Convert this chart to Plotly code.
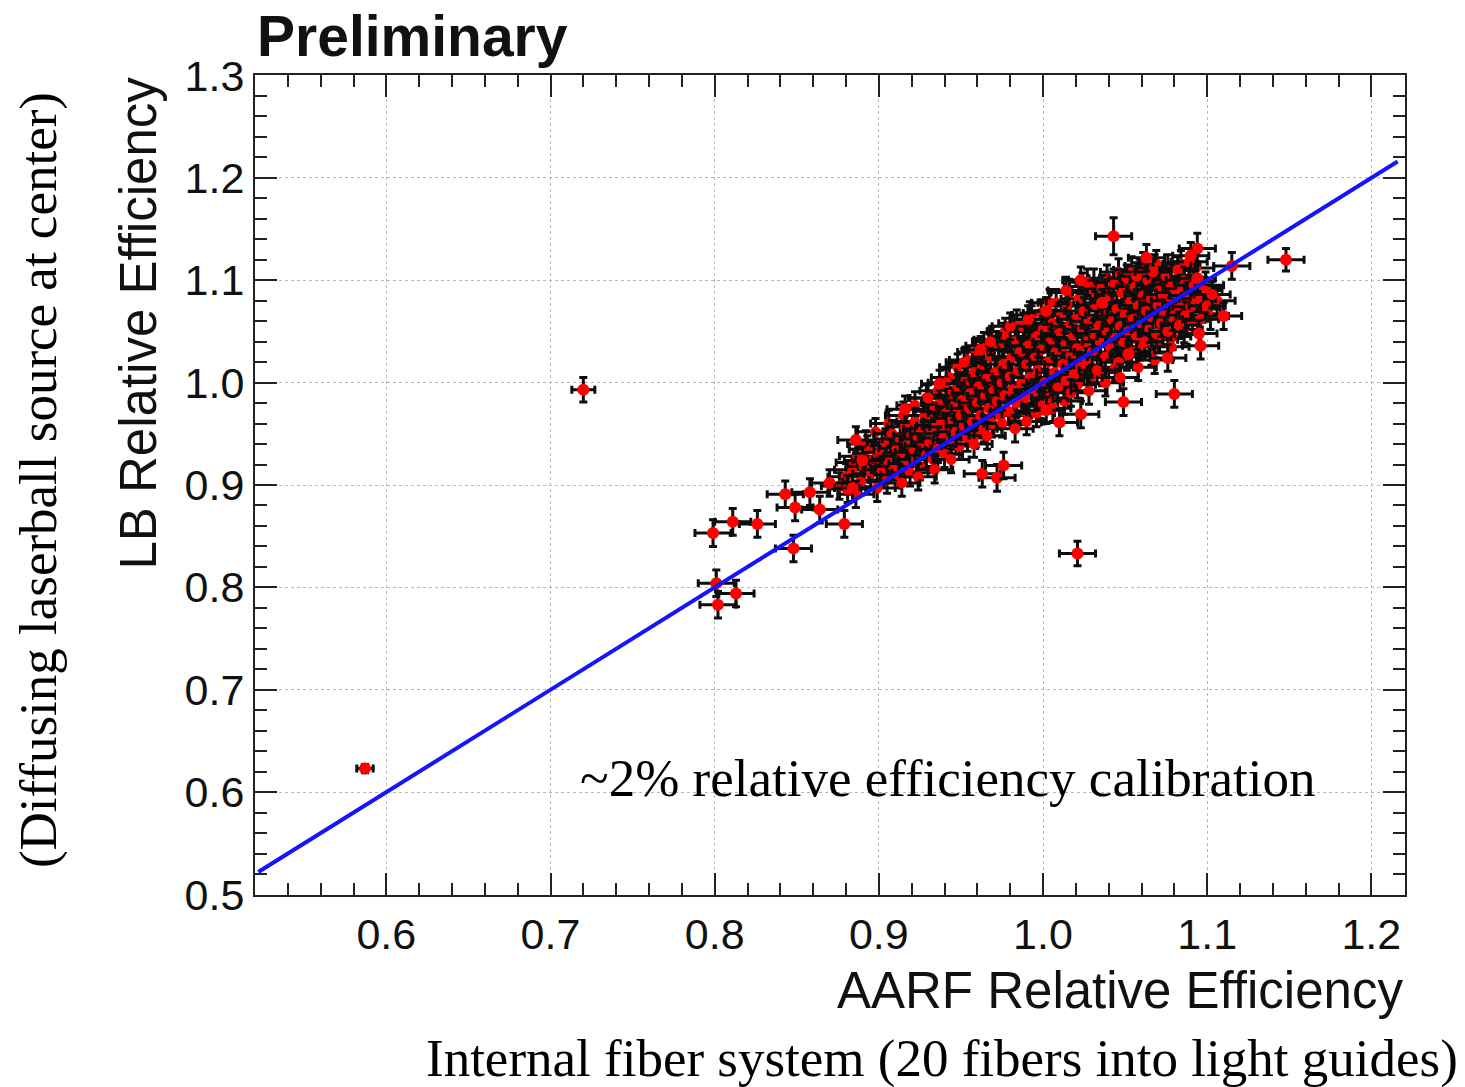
import plotly.graph_objects as go

# ---------------- data ----------------
# dense cluster (AARF x, LB y)
cluster_x = [
 0.876,0.880,0.884,0.887,0.889,0.891,0.893,0.895,0.897,0.899,0.886,
 0.901,0.902,0.904,0.905,0.907,0.908,0.909,0.911,0.912,0.913,0.914,0.916,0.917,0.918,0.919,0.920,
 0.921,0.922,0.923,0.924,0.925,0.926,0.927,0.928,0.929,0.930,0.931,0.932,0.933,0.934,0.935,0.936,0.937,0.938,0.939,0.940,
 0.941,0.942,0.943,0.944,0.945,0.946,0.947,0.948,0.949,0.950,0.951,0.952,0.953,0.954,0.955,0.956,0.957,0.958,0.959,0.960,
 0.961,0.962,0.963,0.964,0.965,0.966,0.967,0.968,0.969,0.970,0.971,0.972,0.973,0.974,0.975,0.976,0.977,0.978,0.979,0.980,
 0.981,0.982,0.983,0.984,0.985,0.986,0.987,0.988,0.989,0.990,0.991,0.992,0.993,0.994,0.995,0.996,0.997,0.998,0.999,1.000,
 1.001,1.002,1.003,1.004,1.005,1.006,1.007,1.008,1.009,1.010,1.011,1.012,1.013,1.014,1.015,1.016,1.017,1.018,1.019,1.020,
 1.021,1.022,1.023,1.024,1.025,1.026,1.027,1.028,1.029,1.030,1.031,1.032,1.033,1.034,1.035,1.036,1.037,1.038,1.039,1.040,
 1.041,1.042,1.043,1.044,1.045,1.046,1.047,1.048,1.049,1.050,1.051,1.052,1.053,1.054,1.055,1.056,1.057,1.058,1.059,1.060,
 1.061,1.062,1.063,1.064,1.065,1.066,1.067,1.068,1.069,1.070,1.071,1.072,1.073,1.074,1.075,1.076,1.077,1.078,1.079,1.080,
 1.081,1.082,1.083,1.084,1.085,1.086,1.087,1.088,1.089,1.090,1.092,1.094,1.096,1.098,1.100,1.103,
]
cluster_y = [
 0.899,0.908,0.915,0.928,0.903,0.918,0.935,0.911,0.925,0.897,0.891,
 0.932,0.915,0.942,0.905,0.925,0.950,0.918,0.936,0.910,0.945,0.928,0.957,0.921,0.940,0.912,0.948,
 0.932,0.962,0.925,0.945,0.918,0.955,0.938,0.968,0.929,0.950,0.942,0.972,0.925,0.958,0.946,0.935,0.980,0.962,0.950,0.930,
 0.970,0.957,0.988,0.944,0.965,0.977,0.952,0.995,0.938,0.968,0.983,0.958,1.002,0.946,0.975,0.990,0.962,1.010,0.950,0.980,
 0.996,0.968,1.018,0.955,0.987,1.004,0.975,1.025,0.960,0.992,1.010,0.982,1.035,0.968,1.000,1.018,0.988,1.045,0.972,1.006,
 1.025,0.994,1.040,0.980,1.012,1.030,1.000,1.055,0.985,1.018,1.036,1.005,1.062,0.990,1.024,1.045,1.012,0.978,1.032,1.052,
 1.000,1.070,1.020,0.985,1.040,1.058,1.010,1.030,0.995,1.048,1.066,1.018,1.036,1.002,1.075,1.055,1.026,1.044,1.008,1.062,
 1.034,1.082,1.015,1.052,1.070,1.040,1.022,1.060,1.088,1.030,1.048,1.076,1.012,1.056,1.040,1.092,1.066,1.025,1.050,1.080,
 1.035,1.062,1.098,1.045,1.072,1.020,1.055,1.088,1.040,1.066,1.102,1.050,1.080,1.030,1.062,1.094,1.045,1.075,1.108,1.058,
 1.085,1.040,1.070,1.100,1.052,1.082,1.062,1.112,1.048,1.076,1.094,1.058,1.086,1.068,1.104,1.050,1.080,1.096,1.064,1.088,
 1.072,1.110,1.056,1.092,1.078,1.100,1.066,1.085,1.118,1.074,1.095,1.082,1.062,1.090,1.075,1.086,
]
cluster2_x = [
 0.885,0.892,0.898,0.903,0.906,0.910,0.915,0.918,0.922,0.926,0.929,0.933,0.936,0.939,0.943,0.946,
 0.948,0.951,0.954,0.957,0.959,0.962,0.964,0.967,0.969,0.972,0.974,0.977,0.979,0.982,0.984,0.987,
 0.989,0.992,0.994,0.997,0.999,1.003,1.005,1.008,1.011,1.013,1.016,1.019,1.021,1.024,1.026,1.029,
 1.031,1.034,1.036,1.039,1.041,1.044,1.046,1.049,1.051,1.054,1.056,1.059,1.061,1.064,1.066,1.069,
 1.071,1.074,1.076,1.079,1.081,1.084,1.086,1.089,1.091,1.093,1.097,1.099,1.102,1.106,
 0.958,0.966,0.975,0.983,0.990,0.996,1.006,1.017,1.028,1.038,1.047,1.058,1.068,1.078,
 0.944,0.934,0.924,0.914,0.930,0.941,0.952,0.968,0.980,0.991,1.004,1.014,1.027,1.057,1.067,
]
cluster2_y = [
 0.922,0.940,0.952,0.921,0.960,0.930,0.968,0.932,0.978,0.940,0.985,0.948,0.992,0.972,1.005,0.960,
 1.015,0.972,1.022,0.985,1.030,0.992,1.036,1.000,1.042,1.012,0.985,1.050,1.022,0.968,1.058,1.030,
 0.972,1.066,1.042,0.995,1.068,1.050,0.992,1.078,1.035,0.982,1.088,1.052,0.998,1.094,1.062,1.005,
 1.098,1.072,1.010,1.102,1.085,1.015,1.108,1.092,1.025,1.110,1.070,1.035,1.114,1.078,1.030,1.116,
 1.042,1.090,1.112,1.045,1.098,1.116,1.052,1.100,1.060,1.112,1.072,1.095,1.065,1.080,
 0.940,0.948,0.960,0.955,0.962,0.970,0.975,0.990,0.992,1.000,1.005,1.015,1.022,1.035,
 0.925,0.915,0.908,0.902,0.985,1.000,1.020,1.040,1.055,1.062,1.078,1.090,1.098,1.104,1.108,
]
cluster_ex = 0.011
cluster_ey = 0.013

# isolated / edge points read individually
sep_x = [0.587,0.720,1.021,1.148,1.043,1.094,1.110,1.096,1.095,1.080,1.049,1.023,1.010,1.076,1.052,
         1.063,1.023,1.090,1.094,1.115,1.002,0.962,1.036,0.937,0.916,0.886,0.890,0.881,0.963,0.972,
         0.976,1.002,0.799,0.811,0.826,0.848,0.801,0.813,0.802,0.843,0.858,0.870,0.849,0.864,0.879,0.884]
sep_y = [0.623,0.993,0.833,1.120,1.143,1.131,1.065,1.036,1.048,0.989,0.981,0.969,0.961,1.024,1.028,
         1.122,1.100,1.124,1.102,1.114,1.070,1.032,1.078,0.999,0.974,0.944,0.924,0.896,0.911,0.907,
         0.919,0.973,0.853,0.864,0.862,0.838,0.804,0.794,0.783,0.891,0.893,0.902,0.878,0.876,0.862,0.897]
sep_ex = [0.005,0.007,0.011,0.011,0.011,0.011,0.011,0.011,0.011,0.011,0.011,0.011,0.011,0.011,0.011,
          0.011,0.011,0.011,0.011,0.011,0.011,0.011,0.011,0.011,0.011,0.011,0.011,0.011,0.011,0.011,
          0.011,0.011,0.011,0.011,0.011,0.011,0.011,0.011,0.011,0.011,0.011,0.011,0.011,0.011,0.011,0.011]
sep_ey = [0.004,0.012,0.012,0.011,0.018,0.015,0.013,0.013,0.013,0.013,0.013,0.013,0.013,0.013,0.013,
          0.013,0.013,0.013,0.013,0.013,0.013,0.013,0.013,0.013,0.013,0.013,0.013,0.013,0.013,0.013,
          0.013,0.013,0.013,0.013,0.013,0.013,0.013,0.013,0.013,0.013,0.013,0.013,0.013,0.013,0.013,0.013]

# fitted relation (y = x)
line_x = [0.522, 1.216]
line_y = [0.522, 1.216]

x_ticks = [0.6, 0.7, 0.8, 0.9, 1.0, 1.1, 1.2]
y_ticks = [0.5, 0.6, 0.7, 0.8, 0.9, 1.0, 1.1, 1.2, 1.3]

# ---------------- figure ----------------
fig = go.Figure()

RED = "#ff0000"
BAR = "#0d0d0d"

def add_points(xs, ys, exs, eys, msize):
    fig.add_trace(go.Scatter(
        x=xs, y=ys, mode="markers",
        marker=dict(color=RED, size=msize, line=dict(width=0)),
        error_x=dict(type="data", array=exs, color=BAR, thickness=3, width=4),
        error_y=dict(type="data", array=eys, color=BAR, thickness=3, width=4),
        showlegend=False, hoverinfo="x+y"))

# interleave the two cluster passes and draw them in small chunks
all_x = []
all_y = []
n1, n2 = len(cluster_x), len(cluster2_x)
j = 0
for i in range(n1):
    all_x.append(cluster_x[i]); all_y.append(cluster_y[i])
    if i % 2 == 1 and j < n2:
        all_x.append(cluster2_x[j]); all_y.append(cluster2_y[j]); j += 1
while j < n2:
    all_x.append(cluster2_x[j]); all_y.append(cluster2_y[j]); j += 1

chunk = 3
for i in range(0, len(all_x), chunk):
    xs = all_x[i:i+chunk]
    ys = all_y[i:i+chunk]
    add_points(xs, ys, [cluster_ex]*len(xs), [cluster_ey]*len(xs), 11)

for i in range(0, len(sep_x), chunk):
    add_points(sep_x[i:i+chunk], sep_y[i:i+chunk], sep_ex[i:i+chunk], sep_ey[i:i+chunk], 12)

fig.add_trace(go.Scatter(x=line_x, y=line_y, mode="lines",
                         line=dict(color="#1414ff", width=4),
                         showlegend=False, hoverinfo="skip"))

SANS = "Liberation Sans, Arial, Helvetica, sans-serif"
SERIF = "Liberation Serif, Times New Roman, serif"

axis_common = dict(
    showline=True, linecolor="#222", linewidth=2, mirror="allticks",
    ticks="inside", ticklen=22, tickwidth=2, tickcolor="#222",
    showgrid=True, gridcolor="#b8b8b8", gridwidth=1.2, griddash="dot",
    zeroline=False, tickformat=".1f",
    tickfont=dict(family=SANS, size=43, color="#111"),
    minor=dict(ticks="inside", ticklen=12, tickwidth=2, tickcolor="#222",
               dtick=0.02, showgrid=False),
)

fig.update_xaxes(range=[0.52, 1.2205], tickvals=x_ticks, **axis_common)
fig.update_yaxes(range=[0.4995, 1.3005], tickvals=y_ticks, **axis_common)

fig.update_layout(
    width=1465, height=1087,
    margin=dict(l=255, r=60, t=75, b=192),
    paper_bgcolor="white", plot_bgcolor="white",
    font=dict(family=SANS, color="#111"),
    annotations=[
        dict(text="<b>Preliminary</b>", xref="paper", yref="paper", x=0.0, y=1.048,
             xanchor="left", yanchor="middle", showarrow=False,
             font=dict(family=SANS, size=57, color="#111")),
        dict(text="AARF Relative Efficiency", xref="paper", yref="paper", x=1.0, y=-0.116,
             xanchor="right", yanchor="middle", showarrow=False,
             font=dict(family=SANS, size=51, color="#111")),
        dict(text="LB Relative Efficiency", xref="paper", yref="paper", x=-0.1017, y=1.0,
             xanchor="center", yanchor="top", textangle=-90, showarrow=False,
             font=dict(family=SANS, size=51, color="#111")),
        dict(text="(Diffusing laserball source at center)", xref="paper", yref="paper",
             x=-0.1887, y=0.506, xanchor="center", yanchor="middle", textangle=-90,
             showarrow=False, font=dict(family=SERIF, size=53, color="black")),
        dict(text="Internal fiber system (20 fibers into light guides)", xref="paper", yref="paper",
             x=1.0478, y=-0.1988, xanchor="right", yanchor="middle", showarrow=False,
             font=dict(family=SERIF, size=53, color="black")),
        dict(text="~2% relative efficiency calibration", xref="paper", yref="paper",
             x=0.281, y=0.1427, xanchor="left", yanchor="middle", showarrow=False,
             font=dict(family=SERIF, size=53, color="black")),
    ],
)

fig.write_html("out.html")
